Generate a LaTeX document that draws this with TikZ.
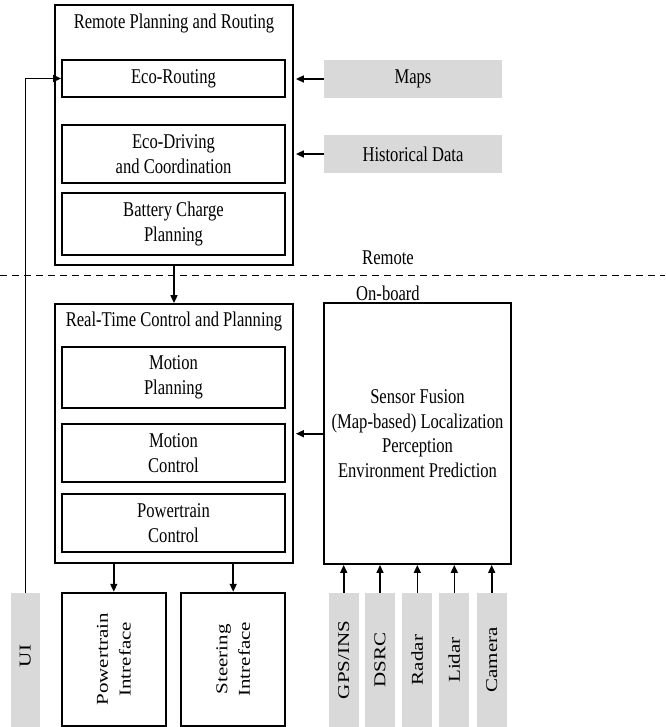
\documentclass[tikz,border=0pt]{standalone}
\usepackage{fontspec}
\setmainfont[FakeStretch=0.79]{Liberation Serif}
\newfontfamily\rotfont[FakeStretch=1.266]{Liberation Serif}
\usetikzlibrary{arrows.meta}
\definecolor{boxgray}{RGB}{217,217,217}
\begin{document}
\begin{tikzpicture}[x=1pt,y=-1pt,
  every node/.style={font=\fontsize{21}{24.5}\selectfont, align=center, inner sep=0pt},
  frame/.style={draw, line width=1.8pt, rectangle},
  inbox/.style={frame, minimum width=223pt},
  graybox/.style={fill=boxgray, rectangle},
  rottext/.style={rotate=90, font=\rotfont\fontsize{16.6}{22.7}\selectfont},
  arr/.style={line width=1.6pt, -{Triangle[length=8pt,width=7pt]}}
]
\useasboundingbox (0,0) rectangle (665,727);
% remote
\node[frame, minimum width=238pt, minimum height=260pt] (remote) at (174,135) {};
\node (remtitle) at (174,23) {Remote Planning and Routing};
\node[inbox, minimum height=37pt] (ecor) at (173.5,78.5) {Eco-Routing};
\node[inbox, minimum height=58pt] (ecod) at (173.5,154) {Eco-Driving\\and Coordination};
\node[inbox, minimum height=62pt] (batt) at (173.5,224) {Battery Charge\\Planning};
\node[graybox, minimum width=178pt, minimum height=38pt] (maps) at (413,79) {Maps};
\node[graybox, minimum width=178pt, minimum height=38pt] (hist) at (413,154) {Historical Data};
\node (remlbl) at (388,258) {Remote};
\node (onblbl) at (388,293) {On-board};
\coordinate (dl) at (0,275.5);
\coordinate (dr) at (665,275.5);
\draw[line width=1.6pt, dash pattern=on 7pt off 5pt] (dl) -- (dr);
% real time
\node[frame, minimum width=238pt, minimum height=259.3pt] (rt) at (174,433.7) {};
\node (rttitle) at (174,321.7) {Real-Time Control and Planning};
\node[inbox, minimum height=61.6pt] (mp) at (173.5,377.5) {Motion\\Planning};
\node[inbox, minimum height=58.3pt] (mc) at (173.5,453.2) {Motion\\Control};
\node[inbox, minimum height=57.4pt] (pc) at (173.5,523) {Powertrain\\Control};
\node[frame, minimum width=187pt, minimum height=260.7pt] (sens) at (417.5,433.7)
  {Sensor Fusion\\(Map-based) Localization\\Perception\\Environment Prediction};
% bottom
\node[frame, minimum width=104.3pt, minimum height=133.3pt] (pti) at (113.8,659.3) {};
\node[rottext] (ptitext) at (pti.center) {Powertrain\\Intreface};
\node[frame, minimum width=104.3pt, minimum height=133.3pt] (sti) at (233.2,659.3) {};
\node[rottext] (stitext) at (sti.center) {Steering\\Intreface};
\node[graybox, minimum width=29.3pt, minimum height=133.7pt] (ui) at (25.3,660) {};
\node[rottext] (uitext) at (25.3,656) {UI};
\foreach \n/\x/\t in {gps/343.7/GPS\slash INS, dsrc/380/DSRC, radar/417.3/Radar, lidar/454.3/Lidar, cam/491.7/Camera}{
  \node[graybox, minimum width=30pt, minimum height=133.7pt] (\n) at (\x,660) {};
  \node[rottext] (\n t) at (\n.center) {\t};
  \draw[arr] (\n.north) -- (\n.north |- sens.south);
}
% connectors
\draw[arr, shorten >=2pt] (maps.west) -- (maps.west -| remote.east);
\draw[arr, shorten >=2pt] (hist.west) -- (hist.west -| remote.east);
\draw[arr] (ui.north) |- (ecor.west);
\draw[arr] (remote.south) -- (rt.north);
\draw[arr, shorten >=2pt] (sens.west) -- (sens.west -| rt.east);
\draw[arr] (pti.north |- rt.south) -- (pti.north);
\draw[arr] (sti.north |- rt.south) -- (sti.north);
\end{tikzpicture}
\end{document}
